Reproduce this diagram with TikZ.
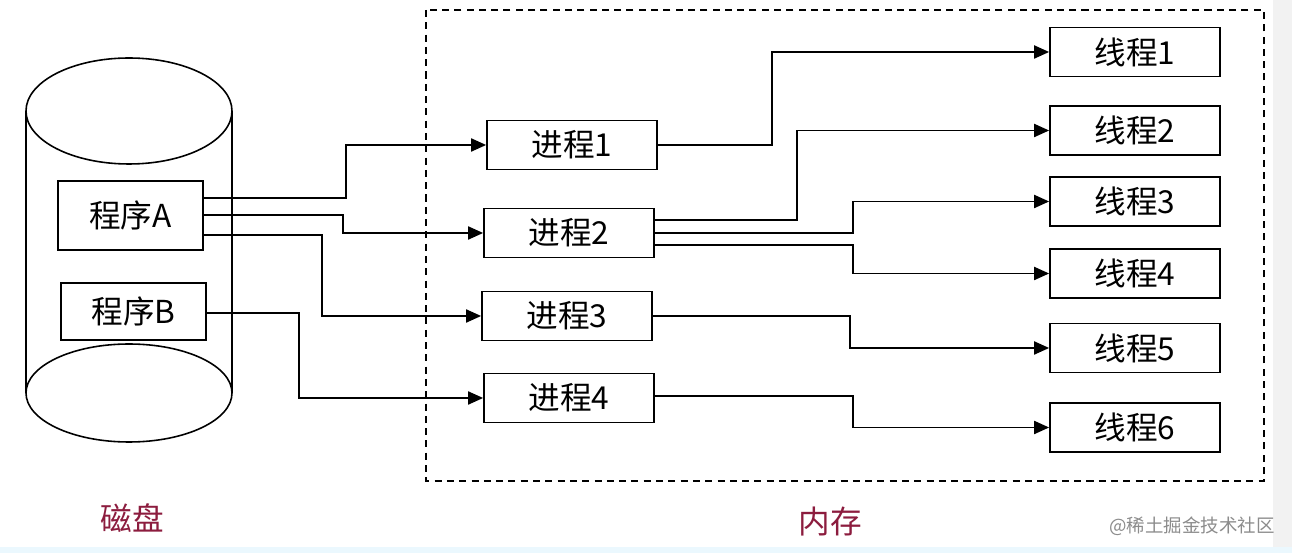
\documentclass[tikz,border=0pt]{standalone}
\usepackage{fontspec}
\setmainfont{Noto Sans CJK SC}
\usetikzlibrary{arrows.meta,calc}
\definecolor{bordeaux}{RGB}{140,28,62}
\newcommand{\epais}[0]{very thick}
\newcommand{\boite}[3]{\node[cadre] (#1) at (#2) {#3}}
\newcommand{\fil}[4]{\draw[fleche] ($(#1)+(0,#2)$) -- ++(#3,0) |- (#4)}

\begin{document}
\begin{tikzpicture}[x=0.02cm,y=-0.02cm,
	cadre/.style={draw,line width=1pt,minimum width=3.4cm,minimum height=0.98cm,inner sep=0pt,font=\fontsize{18}{18}\selectfont},
	fleche/.style={line width=1.1pt,-{Triangle[length=0.3cm,width=0.26cm]}}]
	\useasboundingbox (0,0) rectangle (1292,553);
%Background
	\fill[white] (0,0) rectangle (1292,553);
	\fill[black!5] (1273,0) rectangle (1292,553);
	\fill[cyan!8] (0,547) rectangle (1292,553);
%The disk
	\draw[line width=0.9pt] (129,111) ellipse [x radius=103,y radius=53];
	\draw[line width=0.9pt] (129,393) ellipse [x radius=103,y radius=49];
	\draw[line width=0.9pt] (26,111) -- (26,393);
	\draw[line width=0.9pt] (232,111) -- (232,393);
%The memory
	\draw[\epais,dash pattern=on 4pt off 3pt] (426,10) rectangle (1264,481);
%The programs
	\node[cadre,minimum width=2.9cm,minimum height=1.38cm] (progA) at (130.5,215.5) {程序A};
	\node[cadre,minimum width=2.9cm,minimum height=1.14cm] (progB) at (133.5,311.5) {程序B};
%The processes
	\boite{proc1}{572,145}{进程1};
	\boite{proc2}{569,233}{进程2};
	\boite{proc3}{567,316}{进程3};
	\boite{proc4}{569,398}{进程4};
%The threads
	\boite{thr1}{1135,52}{线程1};
	\boite{thr2}{1135,130.5}{线程2};
	\boite{thr3}{1135,201.5}{线程3};
	\boite{thr4}{1135,273.5}{线程4};
	\boite{thr5}{1135,348}{线程5};
	\boite{thr6}{1135,427.5}{线程6};
%Programs to processes
	\fil{progA.east}{-17.5}{142}{proc1};
	\fil{progA.east}{-0.5}{139}{proc2};
	\fil{progA.east}{19.5}{118}{proc3};
	\fil{progB.east}{1.5}{92}{proc4};
%Processes to threads
	\fil{proc1.east}{0}{114}{thr1};
	\fil{proc2.east}{-13}{142}{thr2};
	\fil{proc2.east}{0}{198}{thr3};
	\fil{proc2.east}{12}{198}{thr4};
	\fil{proc3.east}{0}{197}{thr5};
	\fil{proc4.east}{-2}{198}{thr6};
%The labels
	\node[text=bordeaux,font=\fontsize{18}{18}\selectfont] (disque) at (132,518) {磁盘};
	\node[text=bordeaux,font=\fontsize{18}{18}\selectfont] (memoire) at (830,522) {内存};
	\node[text=black!45,font=\fontsize{10.5}{10.5}\selectfont] (marque) at (1192,526) {@稀土掘金技术社区};
\end{tikzpicture}
\end{document}
